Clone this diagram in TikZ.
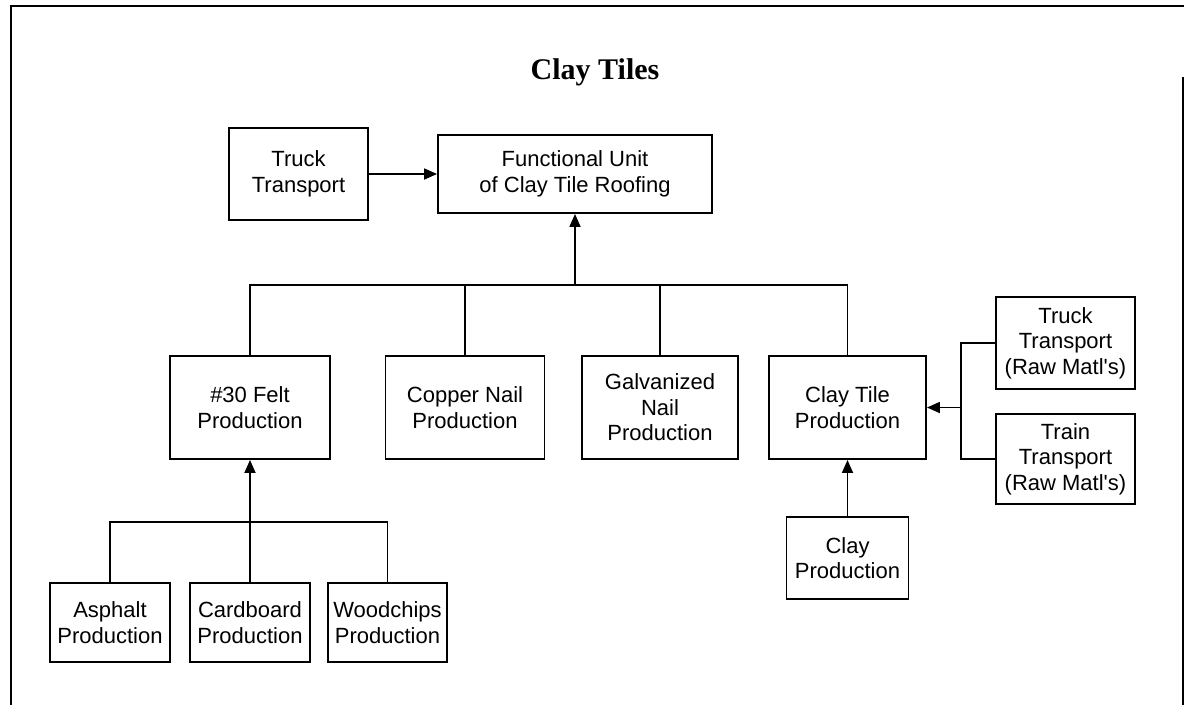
\documentclass[tikz,border=0pt]{standalone}
\usepackage{fontspec}
\setmainfont{Liberation Sans}
\newfontfamily\titlefont{Liberation Serif}
\usetikzlibrary{arrows.meta}
\begin{document}
\begin{tikzpicture}[x=1pt,y=-1pt,
  box/.style={draw,line width=1.9pt,inner sep=0pt,align=center,
    font=\fontsize{22}{25.5}\selectfont},
  link/.style={line width=1.8pt},
  arr/.style={link,-{Triangle[length=13pt,width=11pt]}},
  frame/.style={line width=2.2pt}]
\useasboundingbox (0,0) rectangle (1184,705);

% page frame
\draw[frame] (11,705) -- (11,6) -- (1184,6);
\draw[frame] (1183,77) -- (1183,705);

% title
\node[anchor=base,font=\titlefont\bfseries\fontsize{30}{33}\selectfont] (title) at (595,79) {Clay Tiles};

% top level
\node[box,minimum width=139pt,minimum height=92pt] (truck) at (298.5,174) {Truck\\Transport};
\node[box,minimum width=274pt,minimum height=78pt] (fu) at (575,174) {Functional Unit\\of Clay Tile Roofing};

% second level
\node[box,minimum width=160pt,minimum height=103pt] (felt) at (250,407.5) {\#30 Felt\\Production};
\node[box,minimum width=159pt,minimum height=103pt] (copper) at (465,407.5) {Copper Nail\\Production};
\node[box,minimum width=156pt,minimum height=103pt] (galv) at (660,407.5) {Galvanized\\Nail\\Production};
\node[box,minimum width=157pt,minimum height=103pt] (claytile) at (847.5,407.5) {Clay Tile\\Production};

% transport of raw materials
\node[box,minimum width=139pt,minimum height=92pt] (truckraw) at (1065.5,343) {Truck\\Transport\\(Raw Matl\textquotesingle s)};
\node[box,minimum width=139pt,minimum height=90pt] (trainraw) at (1065.5,459) {Train\\Transport\\(Raw Matl\textquotesingle s)};

% clay
\node[box,minimum width=122pt,minimum height=82pt] (clay) at (847.5,558) {Clay\\Production};

% felt inputs
\node[box,minimum width=120pt,minimum height=79pt] (asphalt) at (110,622.5) {Asphalt\\Production};
\node[box,minimum width=120pt,minimum height=79pt] (cardboard) at (250,622.5) {Cardboard\\Production};
\node[box,minimum width=119pt,minimum height=79pt] (woodchips) at (387.5,622.5) {Woodchips\\Production};

% connectors
\draw[arr] (truck.east) -- (fu.west);

\coordinate (bus) at (575,285);
\draw[link] (felt.north) |- (claytile.north |- bus) -- (claytile.north);
\draw[link] (copper.north) -- (copper.north |- bus);
\draw[link] (galv.north) -- (galv.north |- bus);
\draw[arr] (bus) -- (fu.south);

\coordinate (feltbus) at (250,522);
\draw[link] (asphalt.north) |- (woodchips.north |- feltbus) -- (woodchips.north);
\draw[arr] (cardboard.north) -- (felt.south);

\coordinate (rawbus) at (961,407.5);
\draw[link] (truckraw.west) -| (rawbus) |- (trainraw.west);
\draw[arr] (rawbus) -- (claytile.east);

\draw[arr] (clay.north) -- (claytile.south);
\end{tikzpicture}
\end{document}
